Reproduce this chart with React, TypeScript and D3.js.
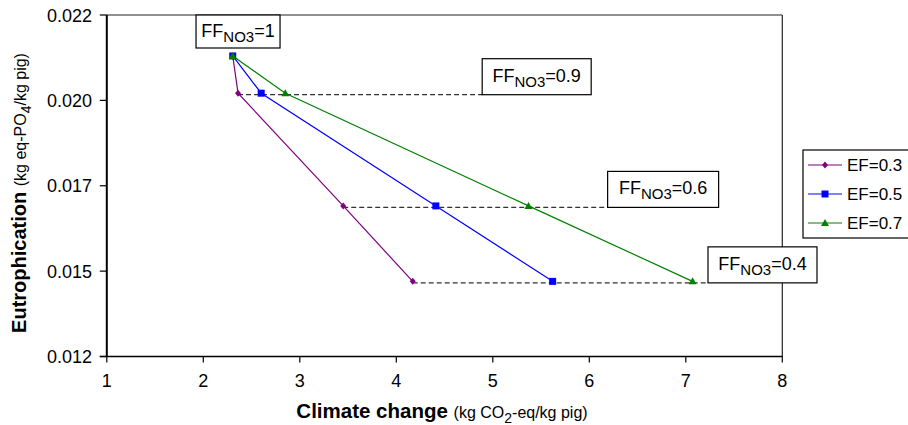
import * as d3 from 'd3'
import { useEffect, useRef } from 'react'

// nitrate fraction levels (one point per series for each)
const ffLevels = ['1', '0.9', '0.6', '0.4']
// eutrophication (kg eq-PO4/kg pig) at each level
const eutro = [0.0208, 0.01971, 0.01641, 0.0142]
// climate change (kg CO2-eq/kg pig) per emission factor
const ef03 = [2.305, 2.36, 3.45, 4.17]
const ef05 = [2.305, 2.6, 4.41, 5.62]
const ef07 = [2.305, 2.85, 5.37, 7.07]
const seriesNames = ['EF=0.3', 'EF=0.5', 'EF=0.7']
const xTicks = [1, 2, 3, 4, 5, 6, 7, 8]
const yTicks = [0.012, 0.0145, 0.017, 0.0195, 0.022]
const yTickLabels = ['0.012', '0.015', '0.017', '0.020', '0.022']
// where the FF labels sit along x
const labelX = [2.36, 4.89, 6.19, 7.23]

const App = () => {
  const svgRef = useRef<SVGSVGElement>(null)

  useEffect(() => {
    const svg = d3.select(svgRef.current)
    svg.selectAll('*').remove()
    const font = 'Liberation Sans, Arial, sans-serif'

    const x = d3.scaleLinear().domain([1, 8]).range([106.8, 782.3])
    const y = d3.scaleLinear().domain([0.012, 0.022]).range([356.5, 15])

    const series = [
      { name: seriesNames[0], xs: ef03, color: '#800080', shape: 'diamond' },
      { name: seriesNames[1], xs: ef05, color: '#0000ff', shape: 'square' },
      { name: seriesNames[2], xs: ef07, color: '#008000', shape: 'triangle' },
    ]

    const marker = (g, shape, color, cx, cy) => {
      if (shape === 'diamond') {
        g.append('path')
          .attr('d', `M${cx},${cy - 3.5}L${cx + 3},${cy}L${cx},${cy + 3.5}L${cx - 3},${cy}Z`)
          .attr('fill', color)
      } else if (shape === 'square') {
        g.append('rect')
          .attr('x', cx - 3.5)
          .attr('y', cy - 3.5)
          .attr('width', 7)
          .attr('height', 7)
          .attr('fill', color)
      } else {
        g.append('path')
          .attr('d', `M${cx},${cy - 4}L${cx + 4},${cy + 3}L${cx - 4},${cy + 3}Z`)
          .attr('fill', color)
      }
    }

    // frame
    svg.append('line')
      .attr('x1', x(1)).attr('x2', x(8)).attr('y1', y(0.022)).attr('y2', y(0.022))
      .attr('stroke', '#222').attr('stroke-width', 1.2)
    svg.append('line')
      .attr('x1', x(8)).attr('x2', x(8)).attr('y1', y(0.022)).attr('y2', y(0.012))
      .attr('stroke', '#222').attr('stroke-width', 1.2)

    // y axis ticks + labels
    yTicks.forEach((t, i) => {
      svg.append('line')
        .attr('x1', x(1) - 7).attr('x2', x(1)).attr('y1', y(t)).attr('y2', y(t))
        .attr('stroke', '#000').attr('stroke-width', 1.2)
      svg.append('text')
        .attr('x', 92).attr('y', y(t) + 6.5)
        .attr('text-anchor', 'end')
        .style('font-family', font).style('font-size', '18px')
        .text(yTickLabels[i])
    })

    // x axis ticks + labels
    xTicks.forEach((t) => {
      svg.append('line')
        .attr('x1', x(t)).attr('x2', x(t)).attr('y1', y(0.012)).attr('y2', y(0.012) + 6)
        .attr('stroke', '#000').attr('stroke-width', 1.2)
      svg.append('text')
        .attr('x', x(t)).attr('y', 387)
        .attr('text-anchor', 'middle')
        .style('font-family', font).style('font-size', '18px')
        .text(t)
    })

    svg.append('line')
      .attr('x1', x(1)).attr('x2', x(1)).attr('y1', y(0.022)).attr('y2', y(0.012))
      .attr('stroke', '#000').attr('stroke-width', 2)
    svg.append('line')
      .attr('x1', x(1) - 7).attr('x2', x(8)).attr('y1', y(0.012)).attr('y2', y(0.012))
      .attr('stroke', '#000').attr('stroke-width', 1.5)

    // dashed guides from EF=0.3 point to label boxes
    ffLevels.forEach((ff, i) => {
      if (i === 0) return
      svg.append('line')
        .attr('x1', x(ef03[i])).attr('x2', x(labelX[i]))
        .attr('y1', y(eutro[i]) + 1.5).attr('y2', y(eutro[i]) + 1.5)
        .attr('stroke', '#333').attr('stroke-width', 1.3)
        .attr('stroke-dasharray', '5,3')
    })

    // series lines and markers
    series.forEach((s) => {
      const line = d3.line<number>().x((d) => x(d)).y((d, i) => y(eutro[i]))
      svg.append('path')
        .datum(s.xs)
        .attr('d', line)
        .attr('fill', 'none')
        .attr('stroke', s.color)
        .attr('stroke-width', 1.2)
      const g = svg.append('g')
      s.xs.forEach((v, i) => marker(g, s.shape, s.color, x(v), y(eutro[i])))
    })

    // FF labels
    ffLevels.forEach((ff, i) => {
      let bx, by, bw, bh
      if (i === 0) {
        bw = 84
        bh = 33
        bx = x(labelX[i]) - bw / 2
        by = y(0.022)
      } else {
        bw = i === 2 ? 111 : 109
        bh = 36
        bx = x(labelX[i])
        by = y(eutro[i]) + 1.5 - bh
      }
      svg.append('rect')
        .attr('x', bx).attr('y', by).attr('width', bw).attr('height', bh)
        .attr('fill', '#fff').attr('stroke', '#000').attr('stroke-width', 1.2)
      const txt = svg.append('text')
        .attr('x', bx + bw / 2).attr('y', by + (i === 0 ? 22 : 23))
        .attr('text-anchor', 'middle')
        .style('font-family', font).style('font-size', '18px')
      txt.append('tspan').text('FF')
      txt.append('tspan').attr('dy', 5).style('font-size', '15px').text('NO3')
      txt.append('tspan').attr('dy', -5).text(`=${ff}`)
    })

    // legend
    const lg = svg.append('g').attr('transform', 'translate(803,150)')
    lg.append('rect')
      .attr('width', 130).attr('height', 88)
      .attr('fill', '#fff').attr('stroke', '#000').attr('stroke-width', 1.2)
    series.forEach((s, i) => {
      const ly = 15 + i * 29
      lg.append('line')
        .attr('x1', 5).attr('x2', 39).attr('y1', ly).attr('y2', ly)
        .attr('stroke', s.color).attr('stroke-width', 1.2)
      marker(lg, s.shape, s.color, 22, ly)
      lg.append('text')
        .attr('x', 44).attr('y', ly + 6)
        .style('font-family', font).style('font-size', '17px')
        .text(s.name)
    })

    // x title
    const xt = svg.append('text')
      .attr('x', 442).attr('y', 418)
      .attr('text-anchor', 'middle')
      .style('font-family', font)
    xt.append('tspan').style('font-size', '20.5px').style('font-weight', 'bold').text('Climate change ')
    xt.append('tspan').style('font-size', '16px').text('(kg CO')
    xt.append('tspan').style('font-size', '14px').attr('dy', 5).text('2')
    xt.append('tspan').style('font-size', '16px').attr('dy', -5).text('-eq/kg pig)')

    // y title
    const yt = svg.append('text')
      .attr('transform', 'translate(26,193) rotate(-90)')
      .attr('text-anchor', 'middle')
      .style('font-family', font)
    yt.append('tspan').style('font-size', '20px').style('font-weight', 'bold').text('Eutrophication ')
    yt.append('tspan').style('font-size', '16px').text('(kg eq-PO')
    yt.append('tspan').style('font-size', '14px').attr('dy', 5).text('4')
    yt.append('tspan').style('font-size', '16px').attr('dy', -5).text('/kg pig)')
  }, [])

  return (
    <svg
      ref={svgRef}
      width={908}
      height={425}
      style={{ position: 'absolute', left: 0, top: 0, background: '#fff' }}
    />
  )
}

export default App
